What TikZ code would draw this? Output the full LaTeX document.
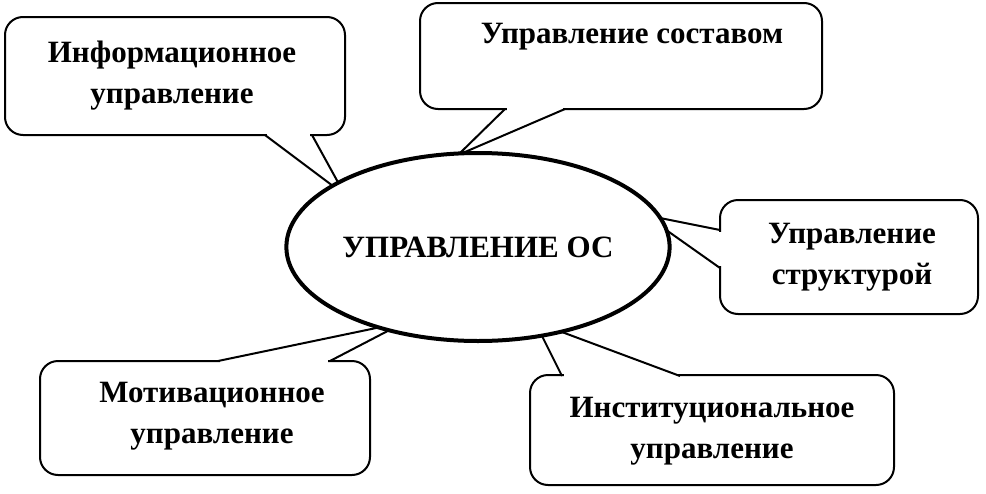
\documentclass[tikz,border=0pt]{standalone}
\usepackage{fontspec}
\setmainfont{Liberation Serif}
\usetikzlibrary{shapes.geometric}
\begin{document}
\begin{tikzpicture}[x=1pt,y=-1pt,
  box/.style={draw,line width=2pt,rounded corners=18pt,inner sep=0pt},
  txt/.style={align=center,font=\bfseries\fontsize{31}{41}\selectfont,inner sep=0pt},
  wedge/.style={line width=2pt,line join=miter}]
\useasboundingbox (0,0) rectangle (986,493);
\node[box,minimum width=340pt,minimum height=118pt] (b1) at (175,76) {};
\node[box,minimum width=402pt,minimum height=106pt] (b2) at (621,56) {};
\node[box,minimum width=258pt,minimum height=114pt] (b3) at (849,257) {};
\node[box,minimum width=330pt,minimum height=114pt] (b4) at (205,418) {};
\node[box,minimum width=364pt,minimum height=110pt] (b5) at (712,430) {};
\node[txt] (l1) at (172,76) {Информационное\\управление};
\node[txt] (l2) at (632,37) {Управление составом};
\node[txt] (l3) at (852,257) {Управление\\структурой};
\node[txt] (l4) at (212,416) {Мотивационное\\управление};
\node[txt] (l5) at (712,431) {Институциональное\\управление};
% wedges
\coordinate (t1) at (345,195);
\fill[white] (267,131) rectangle (310,139);
\draw[wedge] (265,135) -- (t1) -- (312,135);
\coordinate (t2) at (458,155);
\fill[white] (507,105) rectangle (563,113);
\draw[wedge] (505,109) -- (t2) -- (565,109);
\coordinate (t3) at (645,215);
\fill[white] (716,232) rectangle (724,266);
\draw[wedge] (720,230) -- (t3) -- (720,268);
\coordinate (t4) at (405,322);
\fill[white] (220,357) rectangle (328,365);
\draw[wedge] (330,361) -- (t4) -- (218,361);
\coordinate (t5) at (535,322);
\fill[white] (564,372) rectangle (678,380);
\draw[wedge] (562,376) -- (t5) -- (680,376);
\node[draw,ellipse,line width=4pt,minimum width=320pt,minimum height=188pt,fill=white,inner sep=0pt,font=\bfseries\fontsize{31}{36}\selectfont] (c) at (478,247) {УПРАВЛЕНИЕ ОС};
\end{tikzpicture}
\end{document}
